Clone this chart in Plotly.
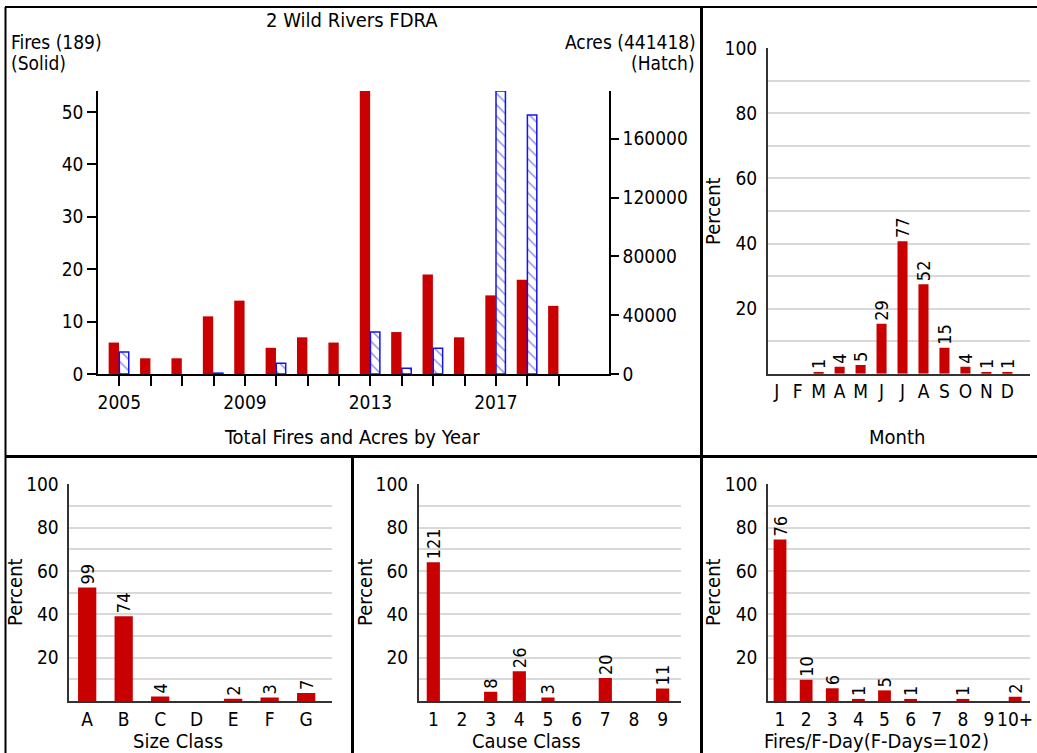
import plotly.graph_objects as go

# ---------------- data ----------------
years = [2005, 2006, 2007, 2008, 2009, 2010, 2011, 2012, 2013, 2014, 2015, 2016, 2017, 2018, 2019]
fires = [6, 3, 3, 11, 14, 5, 7, 6, 54, 8, 19, 7, 15, 18, 13]
acres = [15000, None, None, 600, None, 7300, None, None, 28500, 3900, 17500, None, 192500, 176100, None]
year_labels = ["2005", "", "", "", "2009", "", "", "", "2013", "", "", "", "2017", "", ""]
acre_ticks = [0, 40000, 80000, 120000, 160000]
acre_ticktext = ["0", "40000", "80000", "120000", "160000"]

months = ["J", "F", "M", "A", "M", "J", "J", "A", "S", "O", "N", "D"]
month_counts = [0, 0, 1, 4, 5, 29, 77, 52, 15, 4, 1, 1]
month_pct = [0, 0, 0.53, 2.12, 2.65, 15.34, 40.74, 27.51, 7.94, 2.12, 0.53, 0.53]

size_classes = ["A", "B", "C", "D", "E", "F", "G"]
size_counts = [99, 74, 4, 0, 2, 3, 7]
size_pct = [52.38, 39.15, 2.12, 0, 1.06, 1.59, 3.70]

cause_classes = ["1", "2", "3", "4", "5", "6", "7", "8", "9"]
cause_counts = [121, 0, 8, 26, 3, 0, 20, 0, 11]
cause_pct = [64.02, 0, 4.23, 13.76, 1.59, 0, 10.58, 0, 5.82]

fday_classes = ["1", "2", "3", "4", "5", "6", "7", "8", "9", "10+"]
fday_counts = [76, 10, 6, 1, 5, 1, 0, 1, 0, 2]
fday_pct = [74.51, 9.80, 5.88, 0.98, 4.90, 0.98, 0, 0.98, 0, 1.96]

pct_ticks = [0, 10, 20, 30, 40, 50, 60, 70, 80, 90, 100]
pct_ticktext = ["", "", "20", "", "40", "", "60", "", "80", "", "100"]

# ---------------- style ----------------
W, H = 1037, 753
FONT = "DejaVu Sans Condensed, DejaVu Sans, sans-serif"
RED = "rgb(200,0,0)"
BLUE = "rgb(20,20,230)"
GRID = "#d9d9d9"
AX = "#333333"


def px(x):
    return x / W


def py(y):
    return 1 - y / H


def lbl(counts):
    return [str(c) if c > 0 else "" for c in counts]


fig = go.Figure()

fig.add_trace(go.Bar(x=years, y=fires, xaxis="x", yaxis="y", offset=-0.34, width=0.33,
                     marker=dict(color=RED, line=dict(width=0)), showlegend=False))
fig.add_trace(go.Bar(x=years, y=acres, xaxis="x", yaxis="y2", offset=0.0, width=0.30,
                     marker=dict(color="white",
                                 pattern=dict(shape="\\", fgcolor=BLUE, bgcolor="white",
                                              size=8, solidity=0.18),
                                 line=dict(color=BLUE, width=1.5)),
                     showlegend=False))

bar_text_font = dict(family=FONT, size=18, color="black")


def pct_bar(x, y, counts, xa, ya, width):
    return go.Bar(x=x, y=y, xaxis=xa, yaxis=ya, width=width,
                  marker=dict(color=RED, line=dict(width=0)),
                  text=lbl(counts), textposition="outside", textangle=-90,
                  constraintext="none", cliponaxis=False, textfont=bar_text_font,
                  showlegend=False)


fig.add_trace(pct_bar(list(range(len(months))), month_pct, month_counts, "x2", "y3", 0.48))
fig.add_trace(pct_bar(size_classes, size_pct, size_counts, "x3", "y4", 0.5))
fig.add_trace(pct_bar(cause_classes, cause_pct, cause_counts, "x4", "y5", 0.46))
fig.add_trace(pct_bar(fday_classes, fday_pct, fday_counts, "x5", "y6", 0.49))

tickfont = dict(family=FONT, size=19, color="black")


def pct_yaxis(top, bottom, anchor):
    return dict(domain=[py(bottom), py(top)], range=[0, 100], anchor=anchor,
                tickvals=pct_ticks, ticktext=pct_ticktext, showgrid=True, gridcolor=GRID,
                gridwidth=1.5, showline=True, linecolor=AX, linewidth=1.5, zeroline=False,
                ticks="outside", ticklen=5, tickcolor="rgba(0,0,0,0)", tickfont=tickfont,
                fixedrange=True)


def cat_xaxis(left, right, rng, anchor, **kw):
    d = dict(domain=[px(left), px(right)], range=rng, anchor=anchor, showline=True,
             linecolor=AX, linewidth=1.5, showgrid=False, zeroline=False, ticks="",
             tickangle=0, tickfont=tickfont, fixedrange=True)
    d.update(kw)
    return d


fig.update_layout(
    width=W, height=H, margin=dict(l=0, r=0, t=0, b=0, autoexpand=False),
    paper_bgcolor="white", plot_bgcolor="white", barmode="overlay",
    font=dict(family=FONT, size=20, color="black"),
    xaxis=dict(domain=[px(98), px(609)], range=[2004.32, 2020.6], anchor="y",
               tickvals=years, ticktext=year_labels, ticks="outside", ticklen=10,
               tickcolor="black", tickwidth=1.5, showline=True, linecolor="black",
               linewidth=1.5, showgrid=False, zeroline=False, tickangle=0,
               tickfont=tickfont, fixedrange=True),
    yaxis=dict(domain=[py(374), py(91)], range=[0, 54], anchor="x",
               tickvals=[0, 10, 20, 30, 40, 50], ticks="outside", ticklen=9,
               tickcolor="black", tickwidth=1.5, showline=True, linecolor="black",
               linewidth=1.5, showgrid=False, zeroline=False, tickfont=tickfont,
               fixedrange=True),
    yaxis2=dict(overlaying="y", side="right", anchor="x", range=[0, 192500],
                tickvals=acre_ticks, ticktext=acre_ticktext, ticks="outside", ticklen=8,
                tickcolor="black", tickwidth=1.5, showline=True, linecolor="black",
                linewidth=1.5, showgrid=False, zeroline=False, tickfont=tickfont,
                fixedrange=True),
    xaxis2=cat_xaxis(767.7, 1030, [-0.43, 12.08], "y3",
                     tickvals=list(range(len(months))), ticktext=months),
    yaxis3=pct_yaxis(48.3, 373.7, "x2"),
    xaxis3=cat_xaxis(69.3, 331.7, [-0.49, 6.7], "y4", type="category"),
    yaxis4=pct_yaxis(484.3, 701, "x3"),
    xaxis4=cat_xaxis(418.7, 680.7, [-0.51, 8.63], "y5", type="category"),
    yaxis5=pct_yaxis(484.3, 701, "x4"),
    xaxis5=cat_xaxis(768, 1030, [-0.46, 9.57], "y6", type="category"),
    yaxis6=pct_yaxis(484.3, 701, "x5"),
)

ann = []


def add_text(text, x, y, xanchor="center", angle=0, size=20):
    ann.append(dict(text=text, x=px(x), y=py(y), xref="paper", yref="paper",
                    xanchor=xanchor, yanchor="middle", showarrow=False, textangle=angle,
                    font=dict(family=FONT, size=size, color="black")))


add_text("2 Wild Rivers FDRA", 352, 20)
add_text("Fires (189)", 9, 42, xanchor="left", size=19)
add_text("(Solid)", 9, 63, xanchor="left", size=19)
add_text("Acres (441418)", 698, 42, xanchor="right", size=19)
add_text("(Hatch)", 697, 63, xanchor="right", size=19)
add_text("Total Fires and Acres by Year", 352, 437)
add_text("Month", 897, 437)
add_text("Percent", 713, 211, angle=-90)
add_text("Percent", 15, 592, angle=-90)
add_text("Percent", 365, 592, angle=-90)
add_text("Percent", 713, 592, angle=-90)
add_text("Size Class", 178, 741)
add_text("Cause Class", 526, 741)
add_text("Fires/F-Day(F-Days=102)", 876, 741)

shapes = []


def line(x0, y0, x1, y1, w):
    shapes.append(dict(type="line", xref="paper", yref="paper", x0=px(x0), y0=py(y0),
                       x1=px(x1), y1=py(y1), line=dict(color="black", width=w)))


line(5, 7, 1037, 7, 2)
line(5.5, 7, 5.5, 753, 2)
line(5, 456.5, 1037, 456.5, 3)
line(701.5, 7, 701.5, 753, 3)
line(352.5, 456.5, 352.5, 753, 3)

fig.update_layout(annotations=ann, shapes=shapes)

fig.write_html("out.html")
